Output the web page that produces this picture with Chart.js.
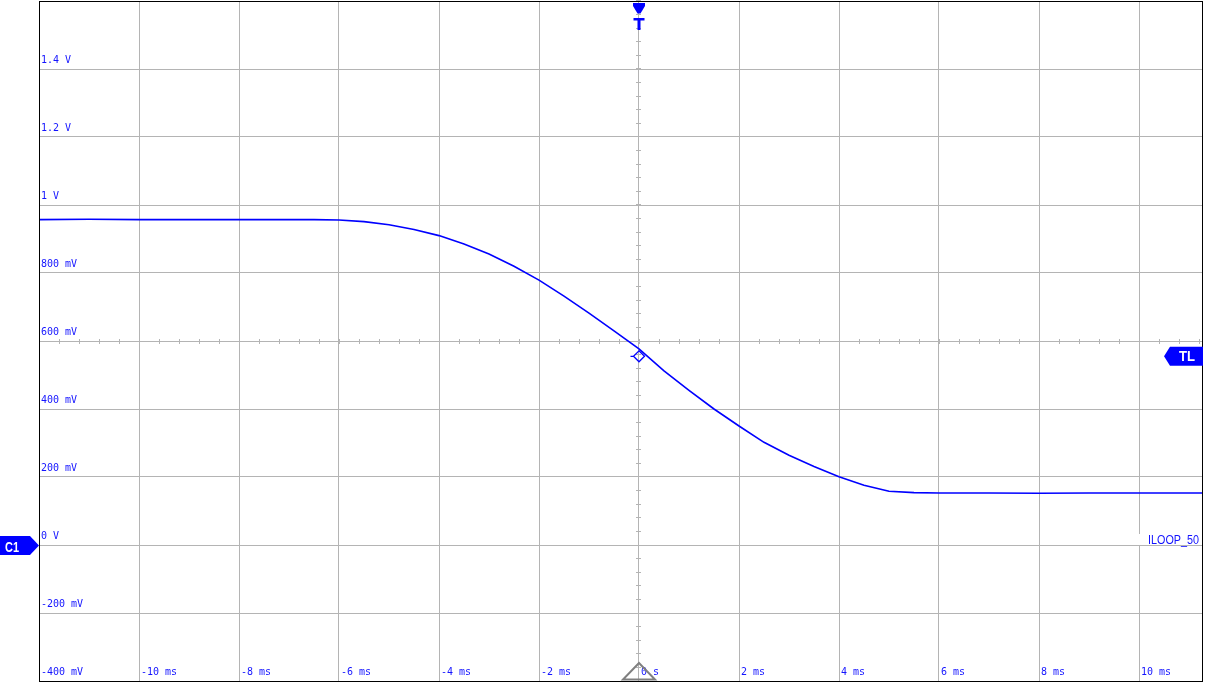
<!DOCTYPE html>
<html>
<head>
<meta charset="UTF-8">
<title>ILOOP_50</title>
<script src="https://cdn.jsdelivr.net/npm/chart.js@4.4.1/dist/chart.umd.min.js"></script>
<style>
  html, body { margin: 0; padding: 0; background: #fff; }
</style>
</head>
<body>
<canvas id="scope" width="1205" height="683"></canvas>

<script>
  // trace (time in ms, channel 1 in volts)
  let timeMs = [-12, -11, -10, -9, -8, -7, -6.5, -6, -5.5, -5, -4.5, -4, -3.5, -3, -2.5, -2,
                -1.5, -1, -0.5, 0, 0.5, 1, 1.5, 2, 2.5, 3, 3.5, 4, 4.5, 5, 5.5, 6, 7, 8, 9, 10, 11.28];
  let voltsV = [0.957, 0.958, 0.957, 0.957, 0.957, 0.957, 0.957, 0.956, 0.951, 0.942, 0.928, 0.910, 0.885, 0.856, 0.820, 0.779,
                0.732, 0.682, 0.630, 0.577, 0.512, 0.455, 0.400, 0.350, 0.302, 0.264, 0.231, 0.201, 0.176, 0.158, 0.154, 0.153, 0.153, 0.152, 0.153, 0.153, 0.153];

  // graticule
  let xMin = -12, xMax = 11.28;
  let yMin = -0.4, yMax = 1.6;
  let xGrid = [-12, -10, -8, -6, -4, -2, 0, 2, 4, 6, 8, 10];
  let yGrid = [-0.4, -0.2, 0, 0.2, 0.4, 0.6, 0.8, 1.0, 1.2, 1.4, 1.6];
  let xLabelVals = [-10, -8, -6, -4, -2, 0, 2, 4, 6, 8, 10];
  let xLabels = ['-10 ms', '-8 ms', '-6 ms', '-4 ms', '-2 ms', '0 s', '2 ms', '4 ms', '6 ms', '8 ms', '10 ms'];
  let yLabelVals = [-0.4, -0.2, 0, 0.2, 0.4, 0.6, 0.8, 1.0, 1.2, 1.4];
  let yLabels = ['-400 mV', '-200 mV', '0 V', '200 mV', '400 mV', '600 mV', '800 mV', '1 V', '1.2 V', '1.4 V'];
  let trigLevel = 0.555;   // TL
  let traceName = 'ILOOP_50';

  let blue = '#0000ff';
  let gridGray = '#b4b4b4';

  function px(v){ return Math.round(v - 0.5) + 0.5; }

  // everything the scope paints on top of the grid
  let scopeDecor = {
    id: 'scopeDecor',
    afterDatasetsDraw(chart){
      let ctx = chart.ctx;
      let xs = chart.scales.x, ys = chart.scales.y;
      let a = chart.chartArea;
      ctx.save();

      // small ticks on the centre cross
      let cx = px(xs.getPixelForValue(0));
      let cy = px(ys.getPixelForValue((yMin + yMax) / 2));
      ctx.strokeStyle = gridGray;
      ctx.lineWidth = 1;
      ctx.beginPath();
      for (let t = xMin; t <= xMax; t += 0.4) {
        let x = px(xs.getPixelForValue(t));
        ctx.moveTo(x, cy - 2.5); ctx.lineTo(x, cy + 2.5);
      }
      for (let v = yMin; v <= yMax + 1e-9; v += 0.04) {
        let y = px(ys.getPixelForValue(v));
        ctx.moveTo(cx - 2.5, y); ctx.lineTo(cx + 2.5, y);
      }
      ctx.stroke();

      // tick labels inside the screen
      ctx.fillStyle = '#1414ff';
      ctx.font = '10px "DejaVu Sans Mono"';
      ctx.textBaseline = 'alphabetic';
      ctx.textAlign = 'left';
      for (let i = 0; i < yLabelVals.length; i++) {
        let y = Math.round(ys.getPixelForValue(yLabelVals[i]));
        ctx.fillText(yLabels[i], a.left + 2, y - 6);
      }
      for (let i = 0; i < xLabelVals.length; i++) {
        let x = Math.round(xs.getPixelForValue(xLabelVals[i]));
        ctx.fillText(xLabels[i], x + 2, Math.round(a.bottom) - 6);
      }

      // trace name with white box
      let zeroY = Math.round(ys.getPixelForValue(0));
      ctx.fillStyle = '#fff';
      ctx.fillRect(1139, zeroY - 11, Math.floor(a.right) - 1139, 11);
      ctx.fillStyle = '#1414ff';
      ctx.font = '12px "Liberation Sans"';
      ctx.textAlign = 'right';
      ctx.fillText(traceName, Math.floor(a.right) - 4, zeroY - 1, 51);

      // frame
      ctx.strokeStyle = '#000';
      ctx.lineWidth = 1;
      let l = px(a.left), r = Math.floor(a.right) - 0.5, t = px(a.top), b = px(a.bottom);
      ctx.strokeRect(l, t, r - l, b - t);

      // trigger point diamond
      let dx = xs.getPixelForValue(0), dy = ys.getPixelForValue(trigLevel);
      ctx.strokeStyle = blue;
      ctx.lineWidth = 1.3;
      ctx.beginPath();
      ctx.moveTo(dx, dy - 5.5); ctx.lineTo(dx + 5.5, dy); ctx.lineTo(dx, dy + 5.5); ctx.lineTo(dx - 5.5, dy); ctx.closePath();
      ctx.moveTo(dx - 8.5, dy); ctx.lineTo(dx - 5.5, dy);
      ctx.stroke();

      // T marker at the top
      ctx.fillStyle = blue;
      ctx.beginPath();
      ctx.moveTo(dx - 6, 3); ctx.lineTo(dx + 6, 3); ctx.lineTo(dx + 6, 6);
      ctx.lineTo(dx + 1.5, 13.5); ctx.lineTo(dx - 1.5, 13.5); ctx.lineTo(dx - 6, 6);
      ctx.closePath(); ctx.fill();
      ctx.fillRect(dx - 5.5, 18, 11, 2.5);
      ctx.fillRect(dx - 1.5, 18, 3, 12);

      // C1 flag at channel ground
      let gy = ys.getPixelForValue(0) + 0.5;
      ctx.beginPath();
      ctx.moveTo(0, gy - 9.5); ctx.lineTo(30, gy - 9.5); ctx.lineTo(a.left, gy);
      ctx.lineTo(30, gy + 9.5); ctx.lineTo(0, gy + 9.5);
      ctx.closePath(); ctx.fill();

      // TL flag at trigger level
      let ty = dy;
      let rr = Math.floor(a.right);
      ctx.beginPath();
      ctx.moveTo(rr - 39, ty); ctx.lineTo(rr - 33, ty - 9.5); ctx.lineTo(rr, ty - 9.5);
      ctx.lineTo(rr, ty + 9.5); ctx.lineTo(rr - 33, ty + 9.5);
      ctx.closePath(); ctx.fill();

      ctx.fillStyle = '#fff';
      ctx.font = 'bold 14px "Liberation Sans"';
      ctx.textAlign = 'left';
      ctx.fillText('C1', 5, gy + 6, 14);
      ctx.fillText('TL', rr - 24, ty + 5, 16);

      // trigger position triangle at the bottom
      ctx.strokeStyle = '#808080';
      ctx.lineWidth = 2;
      ctx.beginPath();
      ctx.moveTo(dx, 663); ctx.lineTo(dx + 16, 679.5); ctx.lineTo(dx - 16, 679.5);
      ctx.closePath(); ctx.stroke();

      ctx.restore();
    }
  };

  let points = timeMs.map(function(t, i){ return {x: t, y: voltsV[i]}; });

  new Chart('scope', {
    type: 'line',
    data: {
      datasets: [{
        data: points,
        borderColor: blue,
        borderWidth: 1.6,
        pointRadius: 0,
        tension: 0,
        fill: false
      }]
    },
    options: {
      responsive: false,
      animation: false,
      layout: { padding: { left: 39, top: 1, right: 2, bottom: 2 } },
      plugins: { legend: { display: false }, tooltip: { enabled: false } },
      scales: {
        x: {
          type: 'linear', min: xMin, max: xMax,
          afterBuildTicks: function(s){ s.ticks = xGrid.map(function(v){ return {value: v}; }); },
          ticks: { display: false },
          grid: { color: gridGray, lineWidth: 1, drawTicks: false },
          border: { display: false }
        },
        y: {
          type: 'linear', min: yMin, max: yMax,
          afterBuildTicks: function(s){ s.ticks = yGrid.map(function(v){ return {value: v}; }); },
          ticks: { display: false },
          grid: { color: gridGray, lineWidth: 1, drawTicks: false },
          border: { display: false }
        }
      }
    },
    plugins: [scopeDecor]
  });
</script>
</body>
</html>
